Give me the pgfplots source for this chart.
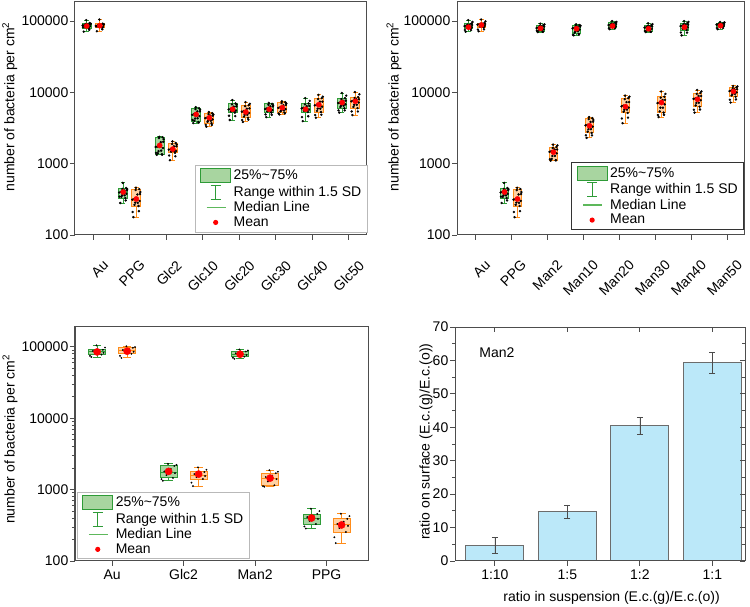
\documentclass[border=0pt]{standalone}
\usepackage{fontspec}
\setmainfont{Liberation Sans}
\usepackage{pgfplots}
\pgfplotsset{compat=1.18}
\definecolor{gfill}{HTML}{A8D5A0}
\definecolor{gline}{HTML}{2E9B37}
\definecolor{gmed}{HTML}{5DB85B}
\definecolor{ofill}{HTML}{FFD1A3}
\definecolor{oline}{HTML}{FF8C1A}
\definecolor{framec}{HTML}{4D4D4D}
\definecolor{barfill}{HTML}{BBE8F9}
\newcommand{\fs}{\fontsize{14}{16}\selectfont}
\pgfplotsset{
  every tick label/.append style={font=\fs},
  every axis/.append style={font=\fs,
    /pgf/number format/assume math mode=true,
    label style={font=\fs},
    yticklabel style={inner sep=1.5pt},
    axis line style={framec,line width=1pt},
    every tick/.style={framec,line width=0.8pt},
    major tick length=5pt, minor tick length=3pt},
  gbox/.style={fill=gfill, draw=gline, line width=0.9pt, forget plot},
  obox/.style={fill=ofill, draw=oline, line width=0.9pt, forget plot},
  gln/.style={draw=gline, line width=0.9pt, forget plot},
  oln/.style={draw=oline, line width=0.9pt, forget plot},
  dots/.style={only marks, mark=*, mark size=1pt, black, forget plot},
  means/.style={only marks, mark=*, mark size=2.6pt, mark options={draw=red,fill=red}, forget plot},
  rotticks/.style={xticklabel style={font=\fs, rotate=45, anchor=north east, inner sep=1pt, xshift=-6pt, yshift=-19pt}},
  boxlegend/.style={legend cell align=left,
    legend style={font=\fs, inner xsep=4.5pt, inner ysep=2.5pt, row sep=1pt,
      nodes={inner sep=1pt, text depth=0.2em}}},
}
\newcommand{\bx}[8]{%
  \pgfmathsetmacro\bxA{#1-#8}\pgfmathsetmacro\bxB{#1+#8}%
  \pgfmathsetmacro\bxC{#1-0.5*#8}\pgfmathsetmacro\bxD{#1+0.5*#8}%
  \addplot[#2box] coordinates {(\bxA,#4) (\bxB,#4) (\bxB,#6) (\bxA,#6)} -- cycle;
  \addplot[#2ln] coordinates {(\bxA,#5) (\bxB,#5)};
  \addplot[#2ln] coordinates {(#1,#6) (#1,#7)};
  \addplot[#2ln] coordinates {(#1,#4) (#1,#3)};
  \addplot[#2ln] coordinates {(\bxC,#7) (\bxD,#7)};
  \addplot[#2ln] coordinates {(\bxC,#3) (\bxD,#3)};
}
\newcommand{\boxlegend}{%
  \addlegendimage{legend image code/.code={\path[draw=none,fill=none] (0pt,-8pt) rectangle (33pt,8pt);\draw[fill=gfill,draw=gline,line width=0.9pt] (1pt,-7pt) rectangle (31pt,7pt);}}
  \addlegendentry{25\%\textasciitilde75\%}
  \addlegendimage{legend image code/.code={\path[draw=none,fill=none] (0pt,0pt) -- (33pt,0pt);\draw[gline,line width=0.9pt,fill=none] (16pt,-7pt)--(16pt,7pt) (11pt,7pt)--(21pt,7pt) (11pt,-7pt)--(21pt,-7pt);}}
  \addlegendentry{Range within 1.5 SD}
  \addlegendimage{legend image code/.code={\path[draw=none,fill=none] (0pt,0pt) -- (33pt,0pt);\draw[draw=gmed,line width=1.4pt,fill=none] (7pt,0pt)--(26pt,0pt);}}
  \addlegendentry{Median Line}
  \addlegendimage{legend image code/.code={\path[draw=none,fill=none] (0pt,0pt) -- (33pt,0pt);\fill[red,draw=none] (16pt,0pt) circle (2.6pt);}}
  \addlegendentry{Mean}
}
\begin{document}
\begin{tikzpicture}
\path[use as bounding box] (0pt,0pt) rectangle (750pt,607pt);
% ---------------- top left ----------------
\begin{axis}[at={(75pt,372pt)}, anchor=south west, scale only axis,
  width=292pt, height=233pt, ymode=log, ymin=100, ymax=185000,
  xmin=-0.5, xmax=7.5, xtick={0,...,7},
  xticklabels={Au,PPG,Glc2,Glc10,Glc20,Glc30,Glc40,Glc50}, rotticks,
  ytick={100,1000,10000,100000}, yticklabels={100,1000,10000,100000},
  yminorticks=false, tick pos=left, tick align=outside,
  ylabel={number of bacteria per cm\textsuperscript{2}},
  ylabel style={at={(axis description cs:-0.223,0.55)}, anchor=center},
  boxlegend,
  legend style={at={(axis description cs:1,0.013)}, anchor=south east, draw=gray!55}]
\bx{-0.18}{g}{71000}{80000}{86000}{94000}{103000}{0.12}
\bx{0.18}{o}{72000}{81000}{85000}{92000}{105000}{0.12}
\bx{0.82}{g}{281}{330}{390}{456}{537}{0.12}
\bx{1.18}{o}{178}{255}{310}{440}{460}{0.12}
\bx{1.82}{g}{1330}{1350}{1700}{2350}{2380}{0.12}
\bx{2.18}{o}{1120}{1420}{1560}{1950}{2050}{0.12}
\bx{2.82}{g}{3700}{3850}{4800}{6000}{6200}{0.12}
\bx{3.18}{o}{3300}{3700}{4300}{5100}{5300}{0.12}
\bx{3.82}{g}{4100}{5200}{5700}{7000}{7800}{0.12}
\bx{4.18}{o}{3850}{4400}{5300}{6600}{7300}{0.12}
\bx{4.82}{g}{4500}{5200}{5800}{6900}{7100}{0.12}
\bx{5.18}{o}{4900}{5200}{6000}{7300}{7500}{0.12}
\bx{5.82}{g}{3950}{5300}{5900}{7000}{8300}{0.12}
\bx{6.18}{o}{4400}{5300}{6500}{8300}{9200}{0.12}
\bx{6.82}{g}{5200}{6000}{7000}{8300}{9800}{0.12}
\bx{7.18}{o}{4800}{6000}{7400}{8600}{10100}{0.12}
\addplot[dots] coordinates {
(-0.26,71000) (-0.12,80000) (-0.21,83000) (-0.09,84000) (-0.24,88000) (-0.15,90000) (-0.10,94000) (-0.19,103000) (-0.28,82000) (-0.07,92000)
(0.10,72000) (0.24,81000) (0.15,83000) (0.27,82500) (0.12,87500) (0.21,88500) (0.26,92000) (0.17,105000) (0.08,84000) (0.29,90000)
(0.74,281) (0.88,330) (0.79,360) (0.91,378) (0.76,402) (0.85,420) (0.90,456) (0.81,537) (0.72,345) (0.93,440)
(1.10,178) (1.24,255) (1.15,285) (1.27,300) (1.12,320) (1.21,370) (1.26,440) (1.17,460) (1.08,210) (1.29,400)
(1.74,1330) (1.88,1350) (1.79,1500) (1.91,1650) (1.76,1750) (1.85,2000) (1.90,2350) (1.81,2380) (1.72,1420) (1.93,2200)
(2.10,1120) (2.24,1420) (2.15,1490) (2.27,1510) (2.12,1610) (2.21,1750) (2.26,1950) (2.17,2050) (2.08,1300) (2.29,1850)
(2.74,3700) (2.88,3850) (2.79,4300) (2.91,4650) (2.76,4950) (2.85,5400) (2.90,6000) (2.81,6200) (2.72,4100) (2.93,5700)
(3.10,3300) (3.24,3700) (3.15,4000) (3.27,4170) (3.12,4430) (3.21,4700) (3.26,5100) (3.17,5300) (3.08,3500) (3.29,4900)
(3.74,4100) (3.88,5200) (3.79,5450) (3.91,5530) (3.76,5870) (3.85,6300) (3.90,7000) (3.81,7800) (3.72,4700) (3.93,6700)
(4.10,3850) (4.24,4400) (4.15,4850) (4.27,5140) (4.12,5460) (4.21,5900) (4.26,6600) (4.17,7300) (4.08,4100) (4.29,6900)
(4.74,4500) (4.88,5200) (4.79,5500) (4.91,5630) (4.76,5970) (4.85,6350) (4.90,6900) (4.81,7100) (4.72,4900) (4.93,6600)
(5.10,4900) (5.24,5200) (5.15,5600) (5.27,5820) (5.12,6180) (5.21,6600) (5.26,7300) (5.17,7500) (5.08,5050) (5.29,7000)
(5.74,3950) (5.88,5300) (5.79,5600) (5.91,5720) (5.76,6080) (5.85,6400) (5.90,7000) (5.81,8300) (5.72,4500) (5.93,7600)
(6.10,4400) (6.24,5300) (6.15,5900) (6.27,6300) (6.12,6700) (6.21,7400) (6.26,8300) (6.17,9200) (6.08,4800) (6.29,8700)
(6.74,5200) (6.88,6000) (6.79,6500) (6.91,6800) (6.76,7200) (6.85,7600) (6.90,8300) (6.81,9800) (6.72,5600) (6.93,9000)
(7.10,4800) (7.24,6000) (7.15,6700) (7.27,7200) (7.12,7600) (7.21,8000) (7.26,8600) (7.17,10100) (7.08,5400) (7.29,9400)
};
\addplot[dots] coordinates {
(-0.23,83000) (-0.14,83500) (-0.29,86800) (-0.08,90000) (-0.20,91200) (-0.11,75500)
(0.13,84200) (0.22,83000) (0.07,85800) (0.28,88500) (0.16,89200) (0.25,76500)
(0.77,343) (0.86,360) (0.71,394) (0.92,423) (0.80,442) (0.89,305)
(1.13,265) (1.22,282) (1.07,313) (1.28,375) (1.16,427) (1.25,216)
(1.77,1404) (1.86,1525) (1.71,1717) (1.92,2025) (1.80,2280) (1.89,1340)
(2.13,1477) (2.22,1490) (2.07,1576) (2.28,1755) (2.16,1890) (2.25,1270)
(2.77,4004) (2.86,4325) (2.71,4848) (2.92,5400) (2.80,5820) (2.89,3775)
(3.13,3848) (3.22,4000) (3.07,4343) (3.28,4700) (3.16,4950) (3.25,3500)
(3.77,5408) (3.86,5450) (3.71,5757) (3.92,6350) (3.80,6790) (3.89,4650)
(4.13,4576) (4.22,4850) (4.07,5353) (4.28,5950) (4.16,6400) (4.25,4125)
(4.77,5408) (4.86,5500) (4.71,5858) (4.92,6350) (4.80,6690) (4.89,4850)
(5.13,5408) (5.22,5600) (5.07,6060) (5.28,6650) (5.16,7080) (5.25,5050)
(5.77,5512) (5.86,5600) (5.71,5959) (5.92,6450) (5.80,6790) (5.89,4625)
(6.13,5512) (6.22,5900) (6.07,6565) (6.28,7400) (6.16,8050) (6.25,4850)
(6.77,6240) (6.86,6500) (6.71,7070) (6.92,7650) (6.80,8050) (6.89,5600)
(7.13,6240) (7.22,6700) (7.07,7474) (7.28,8000) (7.16,8340) (7.25,5400)
};
\addplot[means] coordinates {(-0.18,85000) (0.18,86000) (0.82,400) (1.18,320) (1.82,1800) (2.18,1600) (2.82,4900) (3.18,4400) (3.82,5800) (4.18,5300) (4.82,5800) (5.18,6100) (5.82,5800) (6.18,6700) (6.82,7200) (7.18,7500)};
\boxlegend
\end{axis}
% ---------------- top right ----------------
\begin{axis}[at={(457pt,372pt)}, anchor=south west, scale only axis,
  width=288pt, height=233pt, ymode=log, ymin=100, ymax=185000,
  xmin=-0.5, xmax=7.5, xtick={0,...,7},
  xticklabels={Au,PPG,Man2,Man10,Man20,Man30,Man40,Man50}, rotticks,
  ytick={100,1000,10000,100000}, yticklabels={100,1000,10000,100000},
  yminorticks=false, tick pos=left, tick align=outside,
  ylabel={number of bacteria per cm\textsuperscript{2}},
  ylabel style={at={(axis description cs:-0.219,0.55)}, anchor=center},
  boxlegend,
  legend style={at={(axis description cs:0.9965,0.021)}, anchor=south east, draw=black!80, line width=1.4pt}]
\bx{-0.18}{g}{71000}{78000}{84000}{92000}{103000}{0.12}
\bx{0.18}{o}{72000}{81000}{88000}{94000}{105000}{0.12}
\bx{0.82}{g}{281}{330}{390}{456}{537}{0.12}
\bx{1.18}{o}{178}{255}{310}{440}{460}{0.12}
\bx{1.82}{g}{70000}{71000}{79000}{88000}{92000}{0.12}
\bx{2.18}{o}{1100}{1120}{1450}{1715}{1850}{0.12}
\bx{2.82}{g}{63000}{66000}{78000}{88000}{90000}{0.12}
\bx{3.18}{o}{2300}{2700}{3400}{4350}{4500}{0.12}
\bx{3.82}{g}{77000}{81000}{87000}{95000}{100000}{0.12}
\bx{4.18}{o}{3700}{5150}{6300}{8300}{9000}{0.12}
\bx{4.82}{g}{70000}{71000}{80000}{88000}{93000}{0.12}
\bx{5.18}{o}{4500}{5200}{7000}{8700}{10300}{0.12}
\bx{5.82}{g}{63000}{75000}{84000}{94000}{100000}{0.12}
\bx{6.18}{o}{5200}{6300}{8000}{9800}{10800}{0.12}
\bx{6.82}{g}{77000}{83000}{88000}{94000}{97000}{0.12}
\bx{7.18}{o}{7200}{8700}{10300}{11800}{12300}{0.12}
\addplot[dots] coordinates {
(-0.26,71000) (-0.12,78000) (-0.21,81000) (-0.09,81500) (-0.24,86500) (-0.15,88000) (-0.10,92000) (-0.19,103000) (-0.28,75000) (-0.07,97000)
(0.10,72000) (0.24,81000) (0.15,84500) (0.27,85400) (0.12,90600) (0.21,91000) (0.26,94000) (0.17,105000) (0.08,76000) (0.29,99000)
(0.74,281) (0.88,330) (0.79,360) (0.91,378) (0.76,402) (0.85,420) (0.90,456) (0.81,537) (0.72,345) (0.93,440)
(1.10,178) (1.24,255) (1.15,285) (1.27,300) (1.12,320) (1.21,370) (1.26,440) (1.17,460) (1.08,210) (1.29,400)
(1.74,70000) (1.88,71000) (1.79,75000) (1.91,76600) (1.76,81400) (1.85,83500) (1.90,88000) (1.81,92000) (1.72,73000) (1.93,90000)
(2.10,1100) (2.24,1120) (2.15,1280) (2.27,1400) (2.12,1500) (2.21,1580) (2.26,1715) (2.17,1850) (2.08,1150) (2.29,1800)
(2.74,63000) (2.88,66000) (2.79,72000) (2.91,75700) (2.76,80300) (2.85,83000) (2.90,88000) (2.81,90000) (2.72,64000) (2.93,86000)
(3.10,2300) (3.24,2700) (3.15,3050) (3.27,3300) (3.12,3500) (3.21,3850) (3.26,4350) (3.17,4500) (3.08,2500) (3.29,4100)
(3.74,77000) (3.88,81000) (3.79,84000) (3.91,84400) (3.76,89600) (3.85,91000) (3.90,95000) (3.81,100000) (3.72,79000) (3.93,97000)
(4.10,3700) (4.24,5150) (4.15,5700) (4.27,6100) (4.12,6500) (4.21,7300) (4.26,8300) (4.17,9000) (4.08,4300) (4.29,8700)
(4.74,70000) (4.88,71000) (4.79,75500) (4.91,77600) (4.76,82400) (4.85,84000) (4.90,88000) (4.81,93000) (4.72,72500) (4.93,90500)
(5.10,4500) (5.24,5200) (5.15,6100) (5.27,6800) (5.12,7200) (5.21,7800) (5.26,8700) (5.17,10300) (5.08,4800) (5.29,9500)
(5.74,63000) (5.88,75000) (5.79,79500) (5.91,81500) (5.76,86500) (5.85,89000) (5.90,94000) (5.81,100000) (5.72,69000) (5.93,97000)
(6.10,5200) (6.24,6300) (6.15,7100) (6.27,7760) (6.12,8240) (6.21,8900) (6.26,9800) (6.17,10800) (6.08,5700) (6.29,10300)
(6.74,77000) (6.88,83000) (6.79,85500) (6.91,85400) (6.76,90600) (6.85,91000) (6.90,94000) (6.81,97000) (6.72,80000) (6.93,95500)
(7.10,7200) (7.24,8700) (7.15,9500) (7.27,10000) (7.12,10600) (7.21,11000) (7.26,11800) (7.17,12300) (7.08,7900) (7.29,12100)
};
\addplot[dots] coordinates {
(-0.23,81100) (-0.14,81000) (-0.29,84800) (-0.08,88000) (-0.20,89200) (-0.11,74500)
(0.13,84200) (0.22,84500) (0.07,88900) (0.28,91000) (0.16,91200) (0.25,76500)
(0.77,343) (0.86,360) (0.71,394) (0.92,423) (0.80,442) (0.89,305)
(1.13,265) (1.22,282) (1.07,313) (1.28,375) (1.16,427) (1.25,216)
(1.77,73800) (1.86,75000) (1.71,79800) (1.92,83500) (1.80,85400) (1.89,70500)
(2.13,1165) (2.22,1285) (2.07,1465) (2.28,1580) (2.16,1660) (2.25,1110)
(2.77,68600) (2.86,72000) (2.71,78800) (2.92,83000) (2.80,85400) (2.89,64500)
(3.13,2810) (3.22,3050) (3.07,3434) (3.28,3875) (3.16,4220) (3.25,2500)
(3.77,84200) (3.86,84000) (3.71,87900) (3.92,91000) (3.80,92100) (3.89,79000)
(4.13,5356) (4.22,5725) (4.07,6363) (4.28,7300) (4.16,8050) (4.25,4425)
(4.77,73800) (4.86,75500) (4.71,80800) (4.92,84000) (4.80,85400) (4.89,70500)
(5.13,5408) (5.22,6100) (5.07,7070) (5.28,7850) (5.16,8440) (5.25,4850)
(5.77,78000) (5.86,79500) (5.71,84800) (5.92,89000) (5.80,91200) (5.89,69000)
(6.13,6552) (6.22,7150) (6.07,8080) (6.28,8900) (6.16,9500) (6.25,5750)
(6.77,86300) (6.86,85500) (6.71,88900) (6.92,91000) (6.80,91200) (6.89,80000)
(7.13,9048) (7.22,9500) (7.07,10400) (7.28,11050) (7.16,11450) (7.25,7950)
};
\addplot[means] coordinates {(-0.18,82000) (0.18,88000) (0.82,400) (1.18,320) (1.82,79000) (2.18,1450) (2.82,78000) (3.18,3400) (3.82,85000) (4.18,6300) (4.82,78000) (5.18,7200) (5.82,82000) (6.18,8000) (6.82,86000) (7.18,10300)};
\boxlegend
\end{axis}
% ---------------- bottom left ----------------
\begin{axis}[at={(75pt,46pt)}, anchor=south west, scale only axis,
  width=293pt, height=234pt, ymode=log, ymin=100, ymax=190000,
  xmin=-0.52, xmax=3.58, xtick={0,...,3},
  xticklabels={Au,Glc2,Man2,PPG},
  ytick={100,1000,10000,100000}, yticklabels={100,1000,10000,100000},
  minor ytick={200,300,400,500,600,700,800,900,2000,3000,4000,5000,6000,7000,8000,9000,20000,30000,40000,50000,60000,70000,80000,90000},
  tick pos=left, tick align=outside,
  ylabel={number of bacteria per cm\textsuperscript{2}},
  ylabel style={at={(axis description cs:-0.222,0.52)}, anchor=center},
  boxlegend,
  legend style={at={(axis description cs:0.007,0.009)}, anchor=south west, draw=gray!55}]
\bx{-0.21}{g}{72000}{78000}{85000}{91000}{105000}{0.12}
\bx{0.21}{o}{70000}{80000}{88000}{97000}{102000}{0.12}
\bx{0.79}{g}{1330}{1460}{1750}{2150}{2300}{0.12}
\bx{1.21}{o}{1120}{1410}{1600}{1770}{2050}{0.12}
\bx{1.79}{g}{68000}{73000}{79000}{86000}{92000}{0.12}
\bx{2.21}{o}{1100}{1150}{1450}{1700}{1870}{0.12}
\bx{2.79}{g}{285}{330}{400}{456}{540}{0.12}
\bx{3.21}{o}{178}{255}{320}{390}{460}{0.12}
\addplot[dots, mark size=0.7pt] coordinates {
(-0.29,72000) (-0.15,78000) (-0.24,81500) (-0.12,82500) (-0.27,87500) (-0.18,88000) (-0.13,91000) (-0.22,105000) (-0.31,75000) (-0.10,98000)
(0.13,70000) (0.27,80000) (0.18,84000) (0.30,85400) (0.15,90600) (0.24,92500) (0.29,97000) (0.20,102000) (0.11,75000) (0.32,99500)
(0.71,1330) (0.85,1460) (0.76,1600) (0.88,1700) (0.73,1800) (0.82,1950) (0.87,2150) (0.78,2300) (0.69,1400) (0.90,2220)
(1.13,1120) (1.27,1410) (1.18,1500) (1.30,1550) (1.15,1650) (1.24,1690) (1.29,1770) (1.20,2050) (1.11,1250) (1.32,1900)
(1.71,68000) (1.85,73000) (1.76,76000) (1.88,76600) (1.73,81400) (1.82,82500) (1.87,86000) (1.78,92000) (1.69,70500) (1.90,89000)
(2.13,1100) (2.27,1150) (2.18,1300) (2.30,1400) (2.15,1500) (2.24,1570) (2.29,1700) (2.20,1870) (2.11,1120) (2.32,1780)
(2.71,285) (2.85,330) (2.76,365) (2.88,388) (2.73,412) (2.82,428) (2.87,456) (2.78,540) (2.69,305) (2.90,500)
(3.13,178) (3.27,255) (3.18,290) (3.30,310) (3.15,330) (3.24,355) (3.29,390) (3.20,460) (3.11,215) (3.32,425)
};
\addplot[means, mark size=3.6pt] coordinates {(-0.21,85000) (0.21,87000) (0.79,1800) (1.21,1650) (1.79,79000) (2.21,1450) (2.79,400) (3.21,320)};
\boxlegend
\end{axis}
% ---------------- bottom right ----------------
\begin{axis}[at={(455pt,46pt)}, anchor=south west, scale only axis,
  width=290pt, height=234pt, xmin=-0.55, xmax=3.45, ymin=0, ymax=70,
  ytick={0,10,...,70}, minor y tick num=1,
  xtick={0,1,2,3}, xticklabels={1:10,1:5,1:2,1:1},
  tick pos=left, tick align=outside,
  ylabel={ratio on surface (E.c.(g)/E.c.(o))},
  ylabel style={at={(axis description cs:-0.10,0.51)}, anchor=center},
  xlabel={ratio in suspension (E.c.(g)/E.c.(o))},
  xlabel style={at={(axis description cs:0.54,-0.158)}, anchor=center}]
\addplot[ybar, bar width=0.8, fill=barfill, draw=gray!85!black, line width=0.9pt,
  error bars/.cd, y dir=both, y explicit,
  error bar style={line width=0.5pt, gray!60!black},
  error mark options={rotate=90, line width=0.5pt, mark size=3pt, gray!60!black}]
  coordinates {(0,4.7) +- (0,2.5) (1,14.8) +- (0,2.0) (2,40.5) +- (0,2.6) (3,59.3) +- (0,3.1)};
\node[anchor=west] at (axis description cs:0.072,0.889) {Man2};
\end{axis}
\begin{axis}[at={(455pt,46pt)}, anchor=south west, scale only axis,
  width=290pt, height=234pt, xmin=-0.55, xmax=3.45, ymin=0, ymax=70,
  ytick={0,10,...,70}, minor y tick num=1,
  xtick={0,1,2,3}, xticklabels={}, yticklabels={},
  tick pos=right, tick align=inside]
\end{axis}
\end{tikzpicture}
\end{document}
